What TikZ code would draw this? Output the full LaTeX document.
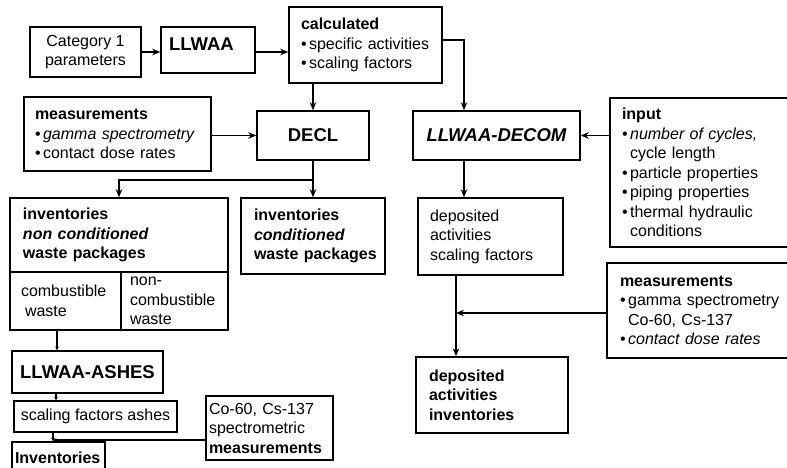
\documentclass[tikz,border=0pt]{standalone}
\usepackage{fontspec}
\setmainfont{Liberation Sans}
\usetikzlibrary{arrows.meta}

\newcommand{\bul}{\textbullet\hspace{2.5pt}}
\newcommand{\bulind}{\phantom{\textbullet}\hspace{2.5pt}}
\newcommand{\oneline}[1]{\mbox{#1}}

\begin{document}
\begin{tikzpicture}[
  x=1pt, y=-1pt,
  font=\fontsize{16}{19.5}\selectfont,
  box/.style={draw, line width=1.5pt, rectangle, inner ysep=0pt},
  prog/.style={font=\fontsize{18.5}{21}\selectfont\bfseries},
  arr/.style={line width=1.3pt, -{Stealth[length=8pt,width=6.5pt]}},
  sarr/.style={line width=1.1pt, -{Stealth[length=3.5pt,width=3.5pt]}}
]
\useasboundingbox (0,0) rectangle (787,468);
\clip (0,0) rectangle (787,468);

% --- upper chain --------------------------------------------------
\node[box, minimum width=111pt, minimum height=50pt, align=center, inner xsep=0pt]
  (cat) at (85.5,52) {Category 1\\parameters};
\node[box, prog, minimum width=94pt, minimum height=46pt, text width=78pt, inner xsep=8pt, align=left]
  (llwaa) at (208,50) {LLWAA\\[-9pt]\mbox{}};
\node[box, minimum width=153pt, minimum height=76pt, text width=129pt, inner xsep=12pt, align=left]
  (calc) at (365.5,45) {\textbf{calculated}\\\bul specific activities\\\bul scaling factors};

\node[box, minimum width=187pt, minimum height=74pt, text width=165pt, inner xsep=11pt, align=left]
  (meas) at (117.5,134) {\textbf{measurements}\\\bul{\itshape gamma spectrometry}\\\bul contact dose rates};
\node[box, prog, minimum width=112pt, minimum height=49pt, align=center, inner xsep=0pt]
  (decl) at (313,135.5) {DECL};
\node[box, prog, minimum width=167pt, minimum height=49pt, align=center, inner xsep=0pt]
  (decom) at (496.5,135.5) {\itshape LLWAA-DECOM};
\node[box, minimum width=190pt, minimum height=149pt, text width=166pt, inner xsep=12pt, align=left]
  (input) at (705,172.5) {\textbf{input}\\\bul{\itshape number of cycles,}\\\bulind cycle length\\\bul particle properties\\\bul piping properties\\\bul thermal hydraulic\\\bulind conditions};

% --- inventories ---------------------------------------------------
\node[box, minimum width=218pt, minimum height=74pt, text width=192pt, inner xsep=13pt, align=left]
  (invn) at (119,235) {\textbf{inventories}\\\textbf{\itshape non conditioned}\\\textbf{waste packages}};
\node[box, minimum width=111pt, minimum height=58pt, text width=89pt, inner xsep=11pt, align=left]
  (comb) at (65.5,301) {combustible\\\hspace{4pt}waste};
\node[box, minimum width=107pt, minimum height=58pt, text width=89pt, inner xsep=9pt, align=left]
  (ncomb) at (174.5,301) {non-\\combustible\\waste};
\node[box, minimum width=144pt, minimum height=76pt, text width=118pt, inner xsep=13pt, align=left]
  (invc) at (313,236) {\oneline{\textbf{inventories}}\\\oneline{\textbf{\itshape conditioned}}\\\oneline{\textbf{waste packages}}};

\node[box, minimum width=145pt, minimum height=77pt, text width=121pt, inner xsep=12pt, align=left]
  (deps) at (490.5,236.5) {deposited\\activities\\scaling factors};
\node[box, minimum width=193pt, minimum height=95pt, text width=167pt, inner xsep=13pt, align=left]
  (meas2) at (703.5,310.5) {\textbf{measurements}\\\bul gamma spectrometry\\\bulind Co-60, Cs-137\\\bul{\itshape contact dose rates}};
\node[box, minimum width=152pt, minimum height=76pt, text width=126pt, inner xsep=13pt, align=left]
  (depi) at (492,395) {\textbf{deposited}\\\textbf{activities}\\\textbf{inventories}};

% --- ashes branch ----------------------------------------------------
\node[box, prog, minimum width=151pt, minimum height=42pt, text width=139pt, inner xsep=6pt, align=center]
  (ashes) at (87.5,372) {LLWAA-ASHES};
\node[box, minimum width=163pt, minimum height=31pt, align=center, inner xsep=0pt]
  (sfa) at (95.5,416.5) {scaling factors ashes};
\node[box, minimum width=127pt, minimum height=64pt, text width=121pt, inner xsep=3pt, align=left]
  (co) at (269.5,428) {Co-60, Cs-137\\spectrometric\\\textbf{measurements}};
\node[box, minimum width=93pt, minimum height=32pt, text width=87pt, inner xsep=3pt, align=left]
  (inv) at (58.5,458) {\textbf{Inventories}};

% --- connector helpers ------------------------------------------------
\coordinate (ya) at (0,52);
\coordinate (c1) at (464,40);
\coordinate (br) at (313,180);
\coordinate (xd) at (456,313);
\coordinate (xa) at (57,0);
\coordinate (xb) at (56,0);
\coordinate (xc) at (53,440);

% --- connectors --------------------------------------------------------
\draw[arr] (cat.east |- ya) -- (llwaa.west |- ya);
\draw[arr] (llwaa.east |- ya) -- (calc.west |- ya);
\draw[arr] (calc.east |- c1) -- (c1) -- (c1 |- decom.north);
\draw[arr] (calc.south -| decl.north) -- (decl.north);
\draw[arr] (meas.east |- decl.west) -- (decl.west);
\draw[arr] (decl.south) -- (decl.south |- invc.north);
\draw[arr] (br) -| (invn.north);
\draw[arr] (input.west |- decom.east) -- (decom.east);
\draw[arr] (decom.south -| c1) -- (deps.north -| c1);
\draw[arr] (deps.south -| xd) -- (depi.north -| xd);
\draw[arr] (meas2.west |- xd) -- (xd);

\draw[sarr] (comb.south -| xa) -- (ashes.north -| xa);
\draw[sarr] (ashes.south -| xb) -- (sfa.north -| xb);
\draw[sarr] (sfa.south -| xc) -- (inv.north -| xc);
\draw[sarr] (co.west |- xc) -- (xc);
\end{tikzpicture}
\end{document}
